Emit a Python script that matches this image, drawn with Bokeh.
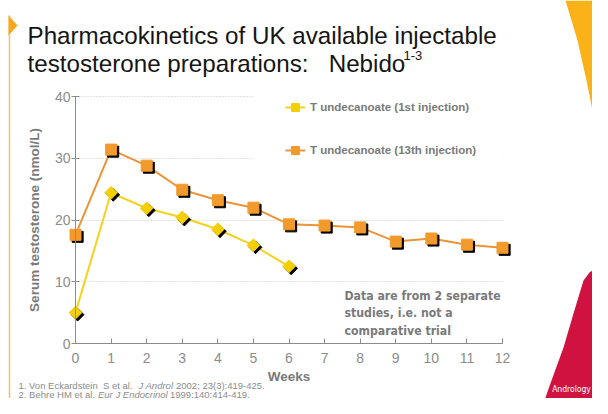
import math
from bokeh.plotting import figure
from bokeh.models import (Range1d, FixedTicker, Label, Legend, LegendItem, BoxAnnotation,
                          PolyAnnotation)
from bokeh.embed import file_html
from bokeh.resources import INLINE

# ---- data ----
weeks_1st = [0, 1, 2, 3, 4, 5, 6]
serum_1st = [5.0, 24.4, 21.9, 20.4, 18.5, 15.9, 12.5]
weeks_13th = [0, 1, 2, 3, 4, 5, 6, 7, 8, 9, 10, 11, 12]
serum_13th = [17.6, 31.4, 28.8, 24.9, 23.2, 22.0, 19.3, 19.1, 18.8, 16.5, 17.0, 16.0, 15.5]
x_ticks = [0, 1, 2, 3, 4, 5, 6, 7, 8, 9, 10, 11, 12]
y_ticks = [0, 10, 20, 30, 40]
series_names = ["T undecanoate (1st injection)", "T undecanoate (13th injection)"]
title_lines = ["Pharmacokinetics of UK available injectable",
               "testosterone preparations:\u00a0\u00a0 Nebido"]
note_lines = ["Data are from 2 separate", "studies, i.e. not a", "comparative trial"]

# ---- slide decoration shapes (page pixel coordinates) ----
yellow_swoosh_x = [565, 577, 586, 594, 600, 603, 605, 608, 608]
yellow_swoosh_y = [0, 40, 80, 120, 160, 200, 235, 235, 0]
orange_swoosh_x = [591, 596, 599, 601, 602, 603, 604, 605, 608, 608]
orange_swoosh_y = [0, 40, 80, 120, 170, 220, 250, 264, 264, 0]
red_shape_x = [608, 597, 589, 583, 573, 563, 551, 539, 608]
red_shape_y = [258, 266, 272, 280, 313, 347, 380, 414, 414]
tri_x = [8, 17, 8]
tri_y = [15, 25, 35]
side_line_x = [8.25, 9.75, 9.75, 8.25]
side_line_y = [15, 15, 414, 414]

YELLOW_LINE = "#F5D21E"
YELLOW_FILL = "#F4CF05"
ORANGE_LINE = "#E99438"
ORANGE_FILL = "#F39A2C"
GRAY = "#8c8c8c"
DARKGRAY = "#7a7a7a"

# page geometry: plot area spans x 75..502 px and y 96..343 px; page fits 592x398
W, H = 592, 398
PX0, PX1, PY_TOP, PY_BOT = 75, 502, 96, 343
SX = (PX1 - PX0) / (x_ticks[-1] - x_ticks[0])
SY = (PY_BOT - PY_TOP) / (y_ticks[-1] - y_ticks[0])

p = figure(width=W, height=H, output_backend="svg", toolbar_location=None,
           x_range=Range1d(-PX0 / SX, (W - PX0) / SX),
           y_range=Range1d(-(H - PY_BOT) / SY, PY_BOT / SY),
           min_border=0)
p.min_border_left = p.min_border_right = p.min_border_top = p.min_border_bottom = 0
p.outline_line_color = None
p.background_fill_color = "white"
p.border_fill_color = "white"

# grid
p.xgrid.visible = False
p.ygrid.ticker = FixedTicker(ticks=y_ticks)
p.ygrid.grid_line_color = "#c4c4c4"
p.ygrid.grid_line_dash = "1 2"
p.ygrid.grid_line_width = 1

# axes crossing at the origin, limited to the data extent
p.xaxis.fixed_location = 0
p.yaxis.fixed_location = 0
p.xaxis.bounds = (x_ticks[0], x_ticks[-1])
p.yaxis.bounds = (y_ticks[0], y_ticks[-1])
p.xaxis.ticker = FixedTicker(ticks=x_ticks)
p.yaxis.ticker = FixedTicker(ticks=y_ticks)
for ax in (p.xaxis[0], p.yaxis[0]):
    ax.axis_line_color = "#8c8c8c"
    ax.major_tick_line_color = "#8c8c8c"
    ax.minor_tick_line_color = None
    ax.major_label_text_font = "Liberation Sans"
    ax.major_label_text_font_size = "14px"
    ax.major_label_text_color = GRAY
    ax.axis_label_text_font = "Liberation Sans"
    ax.axis_label_text_font_style = "bold"
    ax.axis_label_text_color = DARKGRAY
    ax.axis_label_text_font_size = "13.5px"
p.xaxis.major_tick_in = 5
p.xaxis.major_tick_out = 0
p.xaxis.major_label_standoff = 9
p.xaxis.axis_label = "Weeks"
p.xaxis.axis_label_standoff = 3
p.yaxis.major_tick_in = 4
p.yaxis.major_tick_out = 4
p.yaxis.major_label_standoff = 1
p.yaxis.axis_label = "Serum testosterone (nmol/L)"
p.yaxis.axis_label_standoff = 10

# white masks: grid lines only inside the plot area, and hidden behind the legend
x_lo, x_hi = x_ticks[0], x_ticks[-1]
for l, r, b, t in [(-PX0 / SX - 1, x_lo - 0.03, -1, 41),
                   (x_hi + 0.03, (W - PX0) / SX + 1, -1, 41),
                   (5, 12, 28, 41)]:
    p.add_layout(BoxAnnotation(left=l, right=r, bottom=b, top=t, fill_color="white",
                               fill_alpha=1, line_color=None, level="underlay"))

# slide decorations (page pixels)
for xs, ys, c in [(yellow_swoosh_x, yellow_swoosh_y, "#FBB219"),
                  (orange_swoosh_x, orange_swoosh_y, "#F6921E"),
                  (red_shape_x, red_shape_y, "#CF1240"),
                  (side_line_x, side_line_y, "#F3BE72"),
                  (tri_x, tri_y, "#F8A61C")]:
    p.add_layout(PolyAnnotation(xs=xs, ys=ys, xs_units="canvas", ys_units="canvas",
                                fill_color=c, fill_alpha=1, line_color=None, level="underlay"))

# series
dx = 0.06
dy = 0.33
l1 = p.line(weeks_1st, serum_1st, line_color=YELLOW_LINE, line_width=2)
p.scatter([w + dx for w in weeks_1st], [v - dy for v in serum_1st], marker="square",
          angle=math.pi / 4, size=9, fill_color="black", line_color="black")
m1 = p.scatter(weeks_1st, serum_1st, marker="square", angle=math.pi / 4, size=9,
               fill_color=YELLOW_FILL, line_color=YELLOW_FILL)

l2 = p.line(weeks_13th, serum_13th, line_color=ORANGE_LINE, line_width=2)
p.scatter([w + dx for w in weeks_13th], [v - dy for v in serum_13th], marker="square",
          size=11, fill_color="black", line_color="black")
m2 = p.scatter(weeks_13th, serum_13th, marker="square", size=11,
               fill_color=ORANGE_FILL, line_color=ORANGE_FILL)

legend = Legend(items=[LegendItem(label=series_names[0], renderers=[l1, m1]),
                       LegendItem(label=series_names[1], renderers=[l2, m2])],
                location=(285, H - 160), margin=0, padding=0, spacing=23,
                glyph_width=20, glyph_height=20, label_height=20, label_standoff=5,
                border_line_color=None, background_fill_color="white", background_fill_alpha=1,
                label_text_font="Liberation Sans", label_text_font_style="bold",
                label_text_font_size="11.5px", label_text_color=DARKGRAY)
p.add_layout(legend)


def lab(x, y, t, size, color="#151515", style="normal", font="Liberation Sans",
        align="left", baseline="alphabetic"):
    p.add_layout(Label(x=x, y=y, x_units="canvas", y_units="canvas", text=t,
                       text_font=font, text_font_size=size, text_color=color,
                       text_font_style=style, text_align=align, text_baseline=baseline))


# note
for i, t in enumerate(note_lines):
    lab(344, 295 + 17.5 * i, t, "12.2px", DARKGRAY, "bold", "DejaVu Sans Condensed")

# title
lab(27, 35, title_lines[0], "24.2px")
lab(27, 63, title_lines[1], "24.2px")
lab(403, 55, "1-3", "13px")

# footnotes
lab(18, 384.5, "1. Von Eckardstein\u00a0 S et al.", "9.5px", GRAY)
lab(138, 384.5, "J Androl", "9.5px", GRAY, "italic")
lab(175.5, 384.5, "2002; 23(3):419-425.", "9.5px", GRAY)
lab(18, 393.5, "2. Behre HM et al.", "9.5px", GRAY)
lab(97.5, 393.5, "Eur J Endocrinol", "9.5px", GRAY, "italic")
lab(169.5, 393.5, "1999;140:414-419.", "9.5px", GRAY)

# logo text
lab(571, 388, "Andrology", "8.5px", "white", "normal", "DejaVu Sans Condensed",
    "center", "middle")

open("out.html", "w").write(file_html(p, INLINE))
